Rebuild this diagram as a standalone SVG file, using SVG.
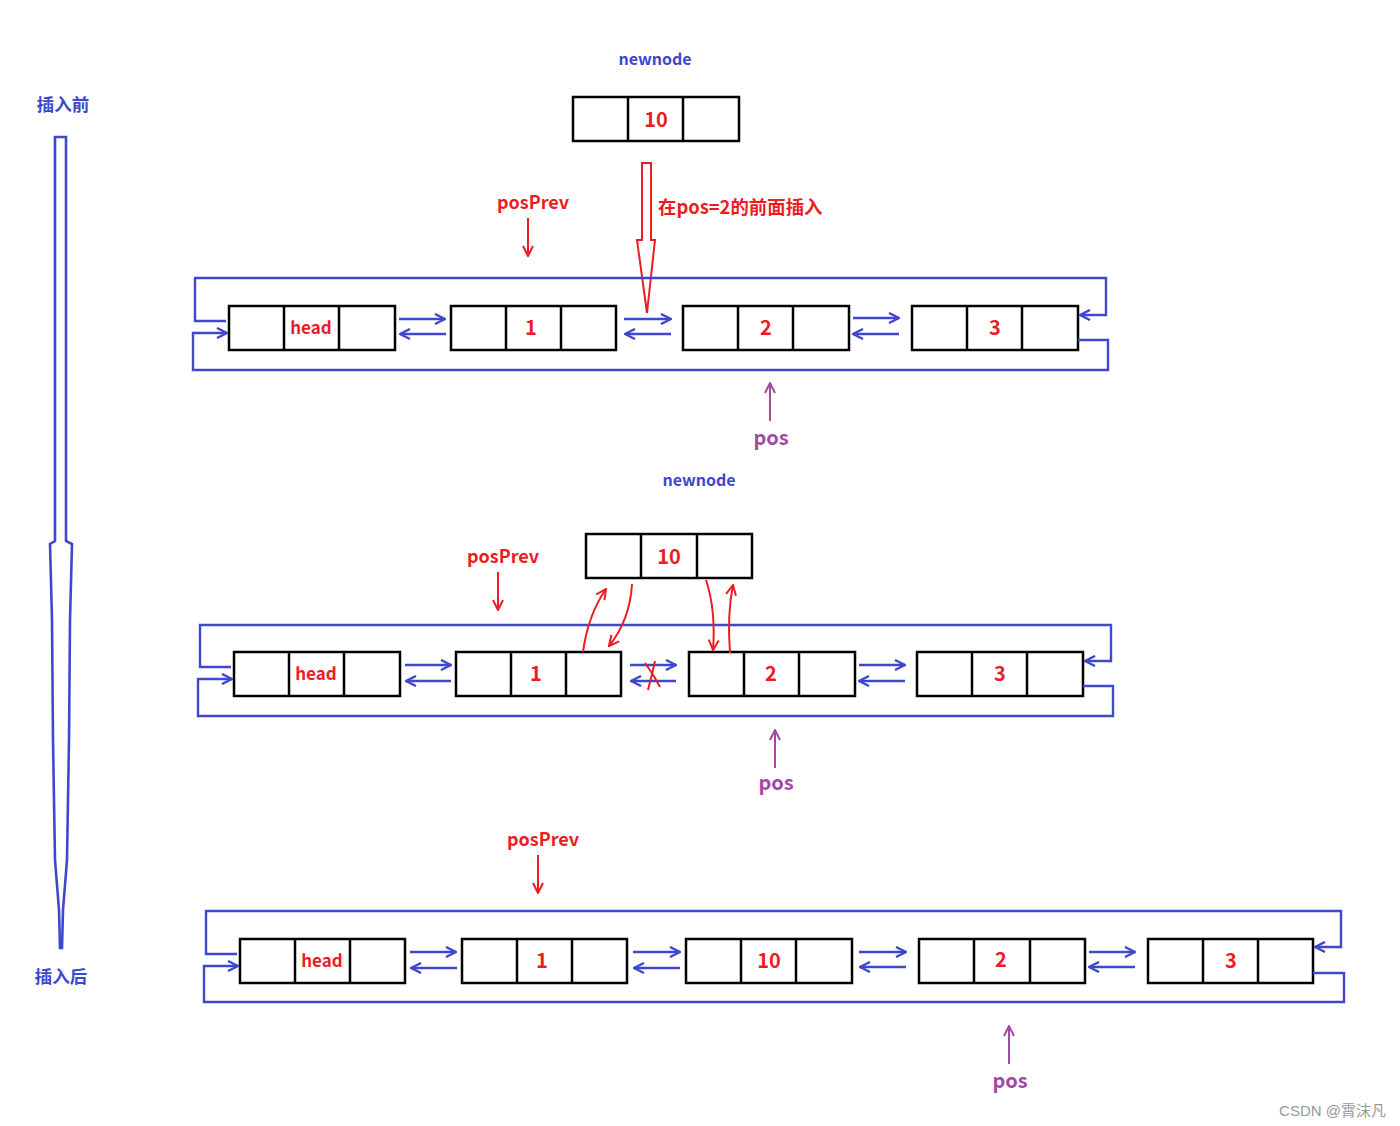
<svg xmlns="http://www.w3.org/2000/svg" width="1400" height="1126" viewBox="0 0 1400 1126">
<style>
.box{fill:#fff;stroke:#000;stroke-width:2.5}
.div{stroke:#000;stroke-width:2.5}
.val{font-family:"Microsoft YaHei","Noto Sans CJK SC","Liberation Sans",sans-serif;font-weight:bold;fill:#ed1c24;text-anchor:middle}
.num{font-size:20px}
.hd{font-size:17px}
.blue{fill:none;stroke:#3f48cc;stroke-width:2.4}
.lbl{font-family:"Noto Sans CJK SC","Liberation Sans",sans-serif;font-weight:bold;font-size:16px;fill:#3f48cc;text-anchor:middle}
.rl{font-family:"Noto Sans CJK SC","Liberation Sans",sans-serif;font-weight:bold;font-size:18px;fill:#ed1c24;text-anchor:middle}
.pl{font-family:"Noto Sans CJK SC","Liberation Sans",sans-serif;font-weight:bold;font-size:20px;fill:#a349a4;text-anchor:middle}
.red{fill:none;stroke:#ed1c24;stroke-width:2}
.pur{fill:none;stroke:#a349a4;stroke-width:2}
</style>
<defs>
<marker id="ab" viewBox="0 0 12 12" refX="11" refY="6" markerWidth="12" markerHeight="12" markerUnits="userSpaceOnUse" orient="auto"><path d="M1,1 L11,6 L1,11" fill="none" stroke="#3f48cc" stroke-width="2.4"/></marker>
<marker id="ar" viewBox="0 0 12 12" refX="11" refY="6" markerWidth="12" markerHeight="12" markerUnits="userSpaceOnUse" orient="auto"><path d="M1,1 L11,6 L1,11" fill="none" stroke="#ed1c24" stroke-width="2"/></marker>
<marker id="ap" viewBox="0 0 12 12" refX="11" refY="6" markerWidth="12" markerHeight="12" markerUnits="userSpaceOnUse" orient="auto"><path d="M1,1 L11,6 L1,11" fill="none" stroke="#a349a4" stroke-width="2"/></marker>
</defs>
<rect width="1400" height="1126" fill="#fff"/>

<!-- left side timeline -->
<g id="timeline">
<text class="lbl" x="63" y="111" style="font-size:17.5px">插入前</text>
<path d="M55,137 L66,137 L66,541 L72,544 L70,620 L69,740 L67,860 L63,910 L62,948 L60,948 L59,910 L55,860 L53,740 L52,620 L50,544 L55,541 Z" fill="none" stroke="#3f48cc" stroke-width="2.6"/>
<text class="lbl" x="61" y="983" style="font-size:17.5px">插入后</text>
</g>

<!-- ROW 1 -->
<g id="r1-newnode">
<text class="lbl" x="655" y="65">newnode</text>
<rect class="box" x="573" y="97" width="166" height="44"/><line class="div" x1="628" y1="97" x2="628" y2="141"/><line class="div" x1="683" y1="97" x2="683" y2="141"/>
<text class="val num" x="656" y="127">10</text>
</g>
<g id="r1-insert">
<path d="M642,163 L651,163 L651,240 L655,240 L647,313 L637,240 L642,240 Z" fill="none" stroke="#ed1c24" stroke-width="2"/>
<text class="rl" x="658" y="214" style="text-anchor:start;font-size:18.4px">在pos=2的前面插入</text>
</g>
<g id="r1-posPrev">
<text class="rl" x="533" y="209">posPrev</text>
<line class="red" x1="528" y1="218" x2="528" y2="256" marker-end="url(#ar)"/>
</g>
<g id="r1-pos">
<line class="pur" x1="770" y1="421" x2="770" y2="383" marker-end="url(#ap)"/>
<text class="pl" x="771" y="445">pos</text>
</g>
<g id="r1-head"><rect class="box" x="229" y="306" width="166" height="44"/><line class="div" x1="284" y1="306" x2="284" y2="350"/><line class="div" x1="339" y1="306" x2="339" y2="350"/><text class="val hd" x="311" y="334">head</text></g>
<g id="r1-n1"><rect class="box" x="451" y="306" width="165" height="44"/><line class="div" x1="506" y1="306" x2="506" y2="350"/><line class="div" x1="561" y1="306" x2="561" y2="350"/><text class="val num" x="531" y="335">1</text></g>
<g id="r1-n2"><rect class="box" x="683" y="306" width="166" height="44"/><line class="div" x1="738" y1="306" x2="738" y2="350"/><line class="div" x1="793" y1="306" x2="793" y2="350"/><text class="val num" x="766" y="335">2</text></g>
<g id="r1-n3"><rect class="box" x="912" y="306" width="166" height="44"/><line class="div" x1="967" y1="306" x2="967" y2="350"/><line class="div" x1="1022" y1="306" x2="1022" y2="350"/><text class="val num" x="995" y="335">3</text></g>

<!-- ROW 2 -->
<g id="r2-newnode">
<text class="lbl" x="699" y="486">newnode</text>
<rect class="box" x="586" y="534" width="166" height="44"/><line class="div" x1="641" y1="534" x2="641" y2="578"/><line class="div" x1="697" y1="534" x2="697" y2="578"/>
<text class="val num" x="669" y="564">10</text>
</g>
<g id="r2-posPrev">
<text class="rl" x="503" y="563">posPrev</text>
<line class="red" x1="498" y1="572" x2="498" y2="610" marker-end="url(#ar)"/>
</g>
<g id="r2-pos">
<line class="pur" x1="775" y1="768" x2="775" y2="730" marker-end="url(#ap)"/>
<text class="pl" x="776" y="790">pos</text>
</g>
<g id="r2-head"><rect class="box" x="234" y="652" width="166" height="44"/><line class="div" x1="289" y1="652" x2="289" y2="696"/><line class="div" x1="344" y1="652" x2="344" y2="696"/><text class="val hd" x="316" y="680">head</text></g>
<g id="r2-n1"><rect class="box" x="456" y="652" width="165" height="44"/><line class="div" x1="511" y1="652" x2="511" y2="696"/><line class="div" x1="566" y1="652" x2="566" y2="696"/><text class="val num" x="536" y="681">1</text></g>
<g id="r2-n2"><rect class="box" x="689" y="652" width="166" height="44"/><line class="div" x1="744" y1="652" x2="744" y2="696"/><line class="div" x1="799" y1="652" x2="799" y2="696"/><text class="val num" x="771" y="681">2</text></g>
<g id="r2-n3"><rect class="box" x="917" y="652" width="166" height="44"/><line class="div" x1="972" y1="652" x2="972" y2="696"/><line class="div" x1="1027" y1="652" x2="1027" y2="696"/><text class="val num" x="1000" y="681">3</text></g>

<!-- ROW 3 -->
<g id="r3-posPrev">
<text class="rl" x="543" y="846">posPrev</text>
<line class="red" x1="538" y1="855" x2="538" y2="893" marker-end="url(#ar)"/>
</g>
<g id="r3-pos">
<line class="pur" x1="1009" y1="1064" x2="1009" y2="1026" marker-end="url(#ap)"/>
<text class="pl" x="1010" y="1088">pos</text>
</g>
<g id="r3-head"><rect class="box" x="240" y="939" width="165" height="44"/><line class="div" x1="295" y1="939" x2="295" y2="983"/><line class="div" x1="350" y1="939" x2="350" y2="983"/><text class="val hd" x="322" y="967">head</text></g>
<g id="r3-n1"><rect class="box" x="462" y="939" width="165" height="44"/><line class="div" x1="517" y1="939" x2="517" y2="983"/><line class="div" x1="572" y1="939" x2="572" y2="983"/><text class="val num" x="542" y="968">1</text></g>
<g id="r3-n10"><rect class="box" x="686" y="939" width="166" height="44"/><line class="div" x1="741" y1="939" x2="741" y2="983"/><line class="div" x1="796" y1="939" x2="796" y2="983"/><text class="val num" x="769" y="968">10</text></g>
<g id="r3-n2"><rect class="box" x="919" y="939" width="166" height="44"/><line class="div" x1="974" y1="939" x2="974" y2="983"/><line class="div" x1="1030" y1="939" x2="1030" y2="983"/><text class="val num" x="1001" y="967">2</text></g>
<g id="r3-n3"><rect class="box" x="1148" y="939" width="165" height="44"/><line class="div" x1="1203" y1="939" x2="1203" y2="983"/><line class="div" x1="1258" y1="939" x2="1258" y2="983"/><text class="val num" x="1231" y="968">3</text></g>

<g id="connectors">
<!-- row 1 -->
<path class="blue" d="M226,321 L195,321 L195,278 L1106,278 L1106,315 L1080,315" marker-end="url(#ab)"/>
<path class="blue" d="M1078,340 L1108,340 L1108,370 L193,370 L193,333 L227,333" marker-end="url(#ab)"/>
<line class="blue" x1="399" y1="319" x2="445" y2="319" marker-end="url(#ab)"/>
<line class="blue" x1="446" y1="334" x2="400" y2="334" marker-end="url(#ab)"/>
<line class="blue" x1="624" y1="319" x2="671" y2="319" marker-end="url(#ab)"/>
<line class="blue" x1="671" y1="334" x2="625" y2="334" marker-end="url(#ab)"/>
<line class="blue" x1="853" y1="318" x2="899" y2="318" marker-end="url(#ab)"/>
<line class="blue" x1="899" y1="334" x2="853" y2="334" marker-end="url(#ab)"/>
<!-- row 2 -->
<path class="blue" d="M231,667 L200,667 L200,625 L1111,625 L1111,661 L1085,661" marker-end="url(#ab)"/>
<path class="blue" d="M1083,686 L1113,686 L1113,716 L198,716 L198,679 L232,679" marker-end="url(#ab)"/>
<line class="blue" x1="405" y1="665" x2="451" y2="665" marker-end="url(#ab)"/>
<line class="blue" x1="451" y1="681" x2="406" y2="681" marker-end="url(#ab)"/>
<line class="blue" x1="630" y1="665" x2="676" y2="665" marker-end="url(#ab)"/>
<line class="blue" x1="676" y1="681" x2="631" y2="681" marker-end="url(#ab)"/>
<line class="blue" x1="859" y1="665" x2="905" y2="665" marker-end="url(#ab)"/>
<line class="blue" x1="905" y1="681" x2="859" y2="681" marker-end="url(#ab)"/>
<path class="red" d="M645,663 Q654,675 660,687 M655,661 Q652,675 648,690"/>
<path class="red" d="M583,652 Q588,615 606,589" marker-end="url(#ar)"/>
<path class="red" d="M632,584 Q630,620 609,646" marker-end="url(#ar)"/>
<path class="red" d="M706,580 Q716,610 713,650" marker-end="url(#ar)"/>
<path class="red" d="M730,653 Q727,615 733,585" marker-end="url(#ar)"/>
<!-- row 3 -->
<path class="blue" d="M237,954 L206,954 L206,911 L1341,911 L1341,947 L1315,947" marker-end="url(#ab)"/>
<path class="blue" d="M1313,973 L1344,973 L1344,1002 L204,1002 L204,966 L238,966" marker-end="url(#ab)"/>
<line class="blue" x1="410" y1="952" x2="456" y2="952" marker-end="url(#ab)"/>
<line class="blue" x1="457" y1="968" x2="411" y2="968" marker-end="url(#ab)"/>
<line class="blue" x1="633" y1="952" x2="680" y2="952" marker-end="url(#ab)"/>
<line class="blue" x1="680" y1="968" x2="634" y2="968" marker-end="url(#ab)"/>
<line class="blue" x1="859" y1="952" x2="906" y2="952" marker-end="url(#ab)"/>
<line class="blue" x1="906" y1="967" x2="860" y2="967" marker-end="url(#ab)"/>
<line class="blue" x1="1089" y1="952" x2="1135" y2="952" marker-end="url(#ab)"/>
<line class="blue" x1="1135" y1="967" x2="1089" y2="967" marker-end="url(#ab)"/>
</g>

<text x="1386" y="1116" font-family="Liberation Sans,Noto Sans CJK SC,sans-serif" font-size="15" fill="#999" text-anchor="end">CSDN @霄沫凡</text>
</svg>
